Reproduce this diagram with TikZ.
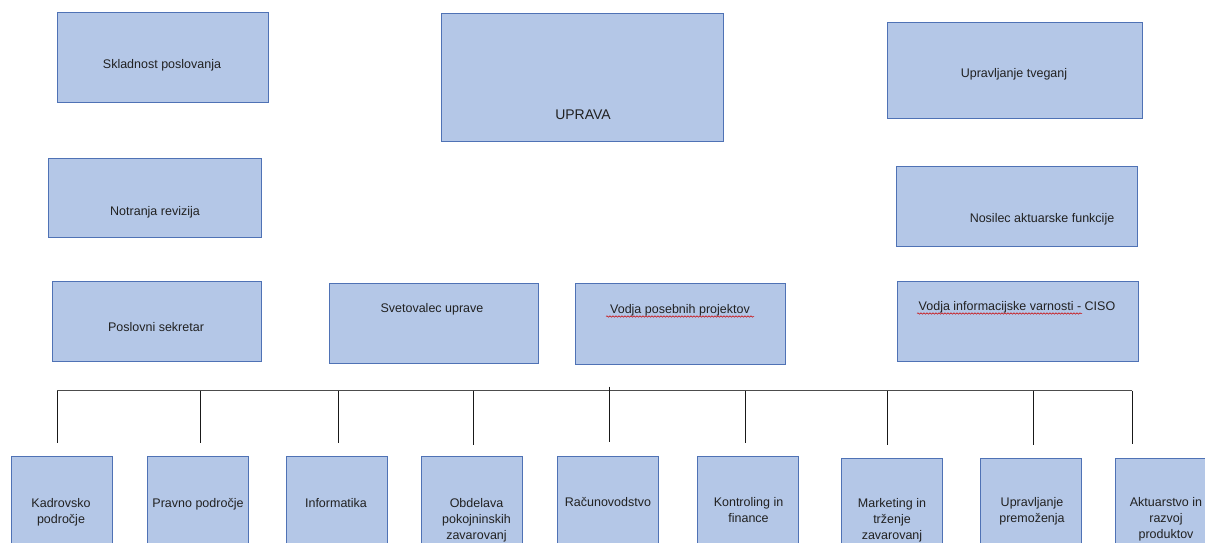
\documentclass[tikz,border=0pt]{standalone}
\usepackage{fontspec}
\setmainfont{Liberation Sans}
\usetikzlibrary{decorations.pathmorphing}
\definecolor{boxfill}{RGB}{180,199,231}
\definecolor{boxline}{RGB}{79,114,181}
\begin{document}
\begin{tikzpicture}[x=1pt,y=-1pt,
  box/.style={draw=boxline, fill=boxfill, line width=0.9pt, inner sep=0pt},
  lbl/.style={inner sep=0pt, font=\fontsize{12.5}{16}\selectfont, text=black!87, anchor=base},
  blbl/.style={inner sep=0pt, font=\fontsize{12.5}{16}\selectfont, text=black!87, align=center, anchor=north},
  bus/.style={line width=1pt, black!70},
  drop/.style={line width=1pt, black!90},
  squig/.style={red!80!black, line width=0.5pt, decorate, decoration={snake, segment length=3pt, amplitude=0.7pt}}]
\useasboundingbox (0,0) rectangle (1205,543);
\clip (0,0) rectangle (1205,543);

% upper boxes
\node[box, minimum width=211pt, minimum height=90pt] (sk) at (162.5,57) {};
\node[box, minimum width=282pt, minimum height=128pt] (up) at (582,77) {};
\node[box, minimum width=255pt, minimum height=96pt] (ut) at (1014.5,70) {};
\node[box, minimum width=213pt, minimum height=79pt] (nr) at (155,198) {};
\node[box, minimum width=241pt, minimum height=80pt] (na) at (1017.3,206.7) {};
\node[box, minimum width=209pt, minimum height=80pt] (ps) at (157,321.7) {};
\node[box, minimum width=209pt, minimum height=80pt] (sv) at (433.7,323.3) {};
\node[box, minimum width=210pt, minimum height=81pt] (vp) at (680.8,324.3) {};
\node[box, minimum width=240.6pt, minimum height=80pt] (ci) at (1018,321.7) {};

\node[lbl] (skt) at (162,68.5) {Skladnost poslovanja};
\node[lbl, font=\fontsize{14}{17}\selectfont] (upt) at (583,119.5) {UPRAVA};
\node[lbl] (utt) at (1014,77.5) {Upravljanje tveganj};
\node[lbl] (nrt) at (155,215) {Notranja revizija};
\node[lbl] (nat) at (1042,222.7) {Nosilec aktuarske funkcije};
\node[lbl] (pst) at (156,331.5) {Poslovni sekretar};
\node[lbl] (svt) at (432,312.7) {Svetovalec uprave};
\node[lbl] (vpt) at (680,313.3) {Vodja posebnih projektov};
\node[lbl] (cit) at (1017,310.7) {Vodja informacijske varnosti - CISO};

% spell-check squiggles
\coordinate (q1a) at (606,316.5);
\coordinate (q1b) at (754,316.5);
\coordinate (q2a) at (917,313.5);
\coordinate (q2b) at (1082,313.5);
\draw[squig] (q1a) -- (q1b);
\draw[squig] (q2a) -- (q2b);

% lower boxes
\node[box, minimum width=101pt, minimum height=150pt, anchor=north] (k1) at (61.5,456) {};
\node[box, minimum width=101pt, minimum height=150pt, anchor=north] (k2) at (197.5,456) {};
\node[box, minimum width=101pt, minimum height=150pt, anchor=north] (k3) at (336.5,456) {};
\node[box, minimum width=101pt, minimum height=150pt, anchor=north] (k4) at (471.5,456) {};
\node[box, minimum width=101pt, minimum height=150pt, anchor=north] (k5) at (608,456) {};
\node[box, minimum width=101pt, minimum height=150pt, anchor=north] (k6) at (748,456) {};
\node[box, minimum width=101pt, minimum height=150pt, anchor=north] (k7) at (892,458) {};
\node[box, minimum width=101pt, minimum height=150pt, anchor=north] (k8) at (1031,458) {};
\node[box, minimum width=101pt, minimum height=150pt, anchor=north] (k9) at (1166,457.5) {};

\node[blbl] (k1t) at (61,498) {Kadrovsko\\področje};
\node[blbl] (k2t) at (198,498) {Pravno področje};
\node[blbl] (k3t) at (336,498) {Informatika};
\node[blbl] (k4t) at (476.5,498) {Obdelava\\pokojninskih\\zavarovanj};
\node[blbl] (k5t) at (608,497.5) {Računovodstvo};
\node[blbl] (k6t) at (748.5,497.5) {Kontroling in\\finance};
\node[blbl] (k7t) at (892,498.5) {Marketing in\\trženje\\zavarovanj};
\node[blbl] (k8t) at (1032,497) {Upravljanje\\premoženja};
\node[blbl] (k9t) at (1166,497.5) {Aktuarstvo in\\razvoj\\produktov};

% connectors
\coordinate (b1) at (57,390.5);
\coordinate (b2) at (200,390.5);
\coordinate (b3) at (338,390.5);
\coordinate (b4) at (473,390.5);
\coordinate (b5) at (609,386.5);
\coordinate (b6) at (745,390.5);
\coordinate (b7) at (887,390.5);
\coordinate (b8) at (1033,390.5);
\coordinate (b9) at (1132,390.5);
\coordinate (t1) at (57,443);
\coordinate (t2) at (200,443);
\coordinate (t3) at (338,443);
\coordinate (t4) at (473,445);
\coordinate (t5) at (609,441.5);
\coordinate (t6) at (745,443);
\coordinate (t7) at (887,445);
\coordinate (t8) at (1033,445);
\coordinate (t9) at (1132,444);
\draw[bus] (b1) -- (b9);
\foreach \i in {1,...,9} { \draw[drop] (b\i) -- (t\i); }
\end{tikzpicture}
\end{document}
